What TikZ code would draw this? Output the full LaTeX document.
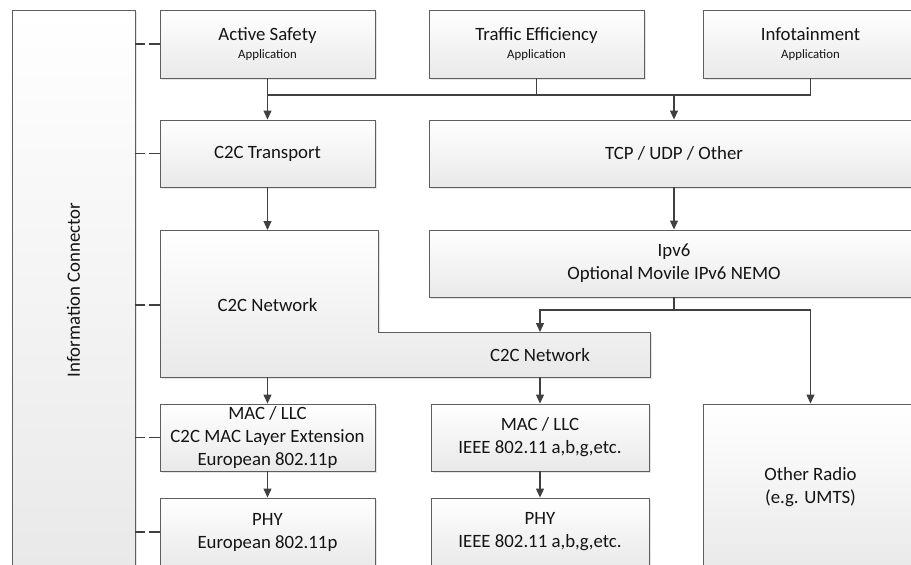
\documentclass[tikz,border=0pt]{standalone}
\usepackage{fontspec}
\setmainfont{Carlito}
\usetikzlibrary{arrows.meta,shadows}
\definecolor{boxline}{HTML}{5E5E5E}
\definecolor{boxbot}{HTML}{E9E9E9}
\definecolor{wire}{HTML}{404040}
\definecolor{txt}{HTML}{141414}
\newcommand\bigsz{\fontsize{18.8pt}{23pt}\selectfont}
\newcommand\smallsz{\fontsize{12.8pt}{15pt}\selectfont}
\begin{document}
\begin{tikzpicture}[x=1pt,y=-1pt,
  shade box/.style={draw=boxline, line width=0.9pt, top color=white, bottom color=boxbot,
    drop shadow={shadow xshift=2pt, shadow yshift=-2pt, fill=black, opacity=0.1}},
  box/.style={shade box, inner sep=0pt, align=center, font=\bigsz, text=txt},
  lbl/.style={inner sep=0pt, align=center, font=\bigsz, text=txt},
  conn/.style={draw=wire, line width=1.1pt},
  arr/.style={conn, -{Triangle[width=8pt,length=9pt]}},
  icline/.style={draw=wire, line width=1.1pt, dash pattern=on 10pt off 4pt on 11pt off 1pt}]
\useasboundingbox (0,0) rectangle (911,565);
\clip (0,0) rectangle (911,565);

% information connector column
\node[box, minimum width=123pt, minimum height=560pt] (ic) at (73.5,290) {};
\node[lbl, rotate=90] (icT) at (ic.center) {Information Connector};

% application row
\node[box, minimum width=215pt, minimum height=68pt] (as) at (267.5,44)
  {Active Safety\\[-5pt]{\smallsz Application}};
\node[box, minimum width=215pt, minimum height=68pt] (te) at (536.5,44)
  {Traffic Efficiency\\[-5pt]{\smallsz Application}};
\node[box, minimum width=215pt, minimum height=68pt] (inf) at (810.5,44)
  {Infotainment\\[-5pt]{\smallsz Application}};

% transport row
\node[box, minimum width=215pt, minimum height=67pt] (c2ct) at (267.5,153.5) {C2C Transport};
\node[box, minimum width=490pt, minimum height=67pt] (tcp) at (674,153.5) {TCP / UDP / Other};

% network row
\node[box, minimum width=490pt, minimum height=67pt] (ip) at (674,263.5)
  {Ipv6\\Optional Movile IPv6 NEMO};
\coordinate (n1) at (160,230);
\coordinate (n2) at (378,230);
\coordinate (n3) at (378,332);
\coordinate (n4) at (650,332);
\coordinate (n5) at (650,377);
\coordinate (n6) at (160,377);
\path[shade box] (n1) -- (n2) -- (n3) -- (n4) -- (n5) -- (n6) -- cycle;
\node[lbl] (net) at (267.5,305) {C2C Network};
\node[lbl] (netb) at (540,355) {C2C Network};
\coordinate (nettop) at (267.5,230);
\coordinate (netbtop) at (540,332);
\coordinate (netbot) at (267.5,377);
\coordinate (netbbot) at (540,377);

% link layer
\node[box, minimum width=215pt, minimum height=67pt] (mac1) at (267.5,437.5)
  {MAC / LLC\\C2C MAC Layer Extension\\European 802.11p};
\node[box, minimum width=218pt, minimum height=67pt] (mac2) at (540,437.5)
  {MAC / LLC\\IEEE 802.11 a,b,g,etc.};
\node[box, minimum width=215pt, minimum height=166pt] (or) at (810.5,487)
  {Other Radio\\(e.g. UMTS)};

% physical layer
\node[box, minimum width=215pt, minimum height=68pt] (phy1) at (267.5,532)
  {PHY\\European 802.11p};
\node[box, minimum width=218pt, minimum height=68pt] (phy2) at (540,532)
  {PHY\\IEEE 802.11 a,b,g,etc.};

% application bus
\coordinate (bus) at (0,95);
\draw[conn] (te.south) -- (te.south |- bus);
\draw[conn] (inf.south) |- (as.south |- bus);
\draw[arr] (as.south) -- (c2ct.north);
\draw[arr] (tcp.north |- bus) -- (tcp.north);

% transport to network
\draw[arr] (c2ct.south) -- (nettop);
\draw[arr] (tcp.south) -- (ip.north);

% IPv6 split
\coordinate (split) at (0,310);
\draw[conn] (ip.south) -- (ip.south |- split);
\draw[arr] (ip.south |- split) -| (netbtop);
\draw[arr] (ip.south |- split) -| (or.north);

% network to link to physical
\draw[arr] (netbot) -- (mac1.north);
\draw[arr] (netbbot) -- (mac2.north);
\draw[arr] (mac1.south) -- (phy1.north);
\draw[arr] (mac2.south) -- (phy2.north);

% information connector taps
\draw[icline] (ic.east |- as) -- (as.west);
\draw[icline] (ic.east |- c2ct) -- (c2ct.west);
\draw[icline] (ic.east |- net) -- (n1 |- net);
\draw[icline] (ic.east |- mac1) -- (mac1.west);
\draw[icline] (ic.east |- phy1) -- (phy1.west);
\end{tikzpicture}
\end{document}
